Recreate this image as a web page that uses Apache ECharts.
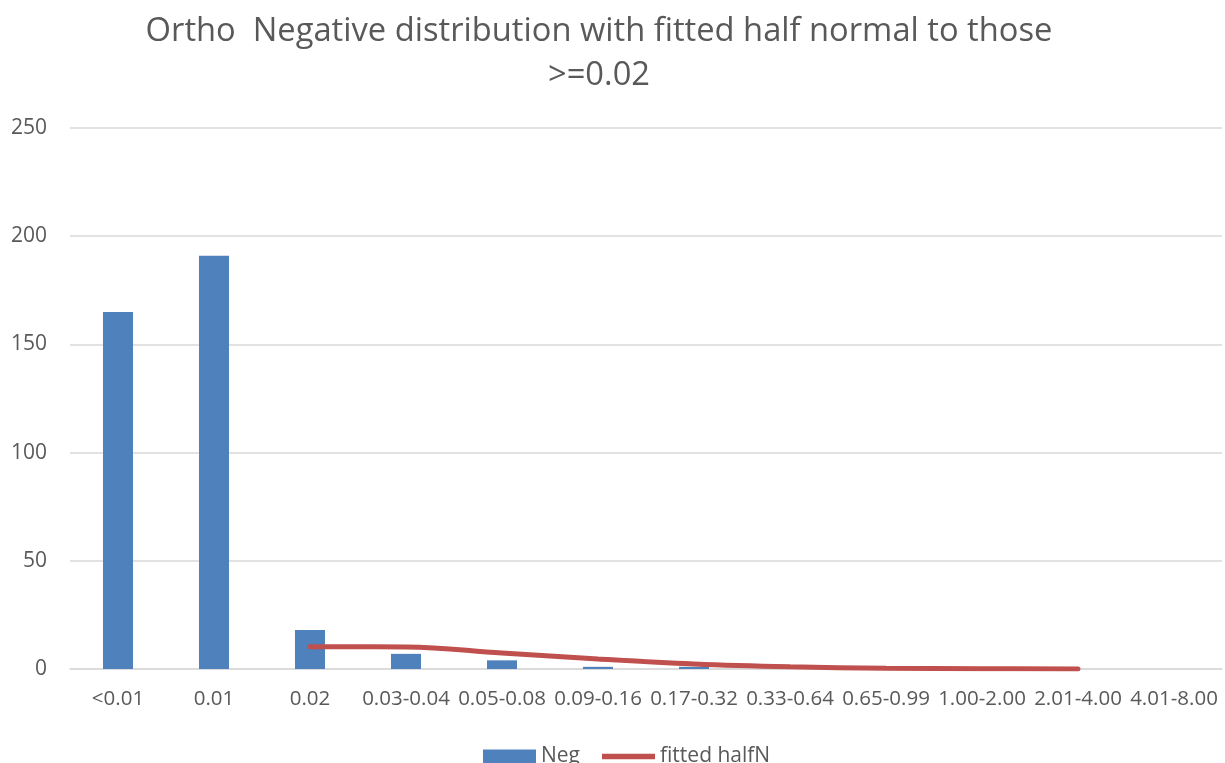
<!DOCTYPE html>
<html>
<head>
<meta charset="utf-8">
<script src="https://cdn.jsdelivr.net/npm/echarts@6/dist/echarts.min.js"></script>
<style>html,body{margin:0;padding:0;background:#fff}#c{width:1225px;height:763px}</style>
</head>
<body>
<div id="c"></div>
<script>
const categories = ['<0.01','0.01','0.02','0.03-0.04','0.05-0.08','0.09-0.16','0.17-0.32','0.33-0.64','0.65-0.99','1.00-2.00','2.01-4.00','4.01-8.00'];
const negValues = [165, 191, 18, 7, 4, 1, 1, 1, 0, 0, 0, 0];
const fittedValues = [null, null, 10.3, 10.2, 7.4, 4.6, 2.3, 1.0, 0.4, 0.15, 0.05, null];
const yTicks = [0, 50, 100, 150, 200, 250];

const chart = echarts.init(document.getElementById('c'));
const font = 'Open Sans, Liberation Sans, sans-serif';
chart.setOption({
  animation: false,
  title: {
    text: 'Ortho  Negative distribution with fitted half normal to those\n>=0.02',
    left: 594, top: 5, textAlign: 'center',
    textStyle: { fontFamily: font, fontSize: 32.7, fontWeight: 'normal', color: '#595959', lineHeight: 44 }
  },
  legend: {
    bottom: -4, left: 483, padding: 0,
    itemGap: 22,
    textStyle: { fontFamily: font, fontSize: 21, color: '#595959', padding: [0,0,0,0] },
    data: [
      { name: 'Neg', icon: 'rect', itemStyle: { color: '#4f81bd' } },
      { name: 'fitted halfN', icon: 'path://M0,0 L10,0 L10,1 L0,1 Z', itemStyle: { color: '#c0504d' } }
    ],
    itemWidth: 53, itemHeight: 14
  },
  grid: { left: 70, right: 3, top: 128, bottom: 94, containLabel: false },
  xAxis: {
    type: 'category', data: categories,
    axisLine: { lineStyle: { color: '#d9d9d9', width: 1.5 } },
    axisTick: { show: false },
    axisLabel: { fontFamily: font, fontSize: 20.5, color: '#595959', margin: 20, interval: 0, hideOverlap: false }
  },
  yAxis: {
    type: 'value', min: 0, max: 250, interval: 50,
    axisLine: { show: false }, axisTick: { show: false },
    splitLine: { lineStyle: { color: '#d9d9d9', width: 1.5 } },
    axisLabel: { fontFamily: font, fontSize: 21, color: '#595959', margin: 23,
      formatter: v => yTicks.includes(v) ? String(v) : '' }
  },
  series: [
    { name: 'Neg', type: 'bar', data: negValues, barWidth: 30,
      itemStyle: { color: '#4f81bd' } },
    { name: 'fitted halfN', type: 'line', data: fittedValues, smooth: 0.4,
      symbol: 'none', connectNulls: false,
      lineStyle: { color: '#c0504d', width: 5, cap: 'round' }, itemStyle: { color: '#c0504d' } }
  ]
});
</script>
</body>
</html>
